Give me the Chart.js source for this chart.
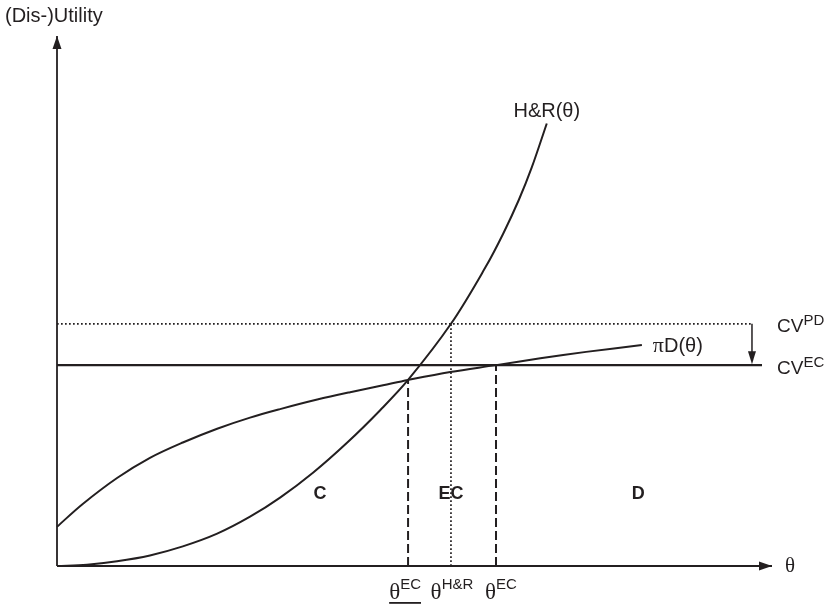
<!DOCTYPE html>
<html>
<head>
<meta charset="utf-8">
<script src="https://cdn.jsdelivr.net/npm/chart.js@4/dist/chart.umd.min.js"></script>
<style>
  html, body { margin: 0; padding: 0; background: #fff; }
  canvas { display: block; }
</style>
</head>
<body>
<canvas id="diagram" width="829" height="605"></canvas>
<script>
// Values (theta and (dis-)utility on a 0..100 scale)
var hrTheta = [0, 4.2, 8.4, 13.0, 17.6, 22.4, 27.0, 31.2, 35.8, 40.6, 45.2, 49.1, 55.1, 59.9, 62.4, 64.6, 66.4, 68.5];
var hrValue = [0, 0.25, 0.9, 2.0, 3.7, 6.1, 9.3, 12.9, 17.6, 23.3, 29.4, 35.1, 45.7, 56.3, 62.7, 69.1, 75.2, 83.5];

var pdTheta = [0, 3.6, 8.4, 13.0, 17.6, 22.4, 27.0, 31.2, 36.4, 41.0, 45.6, 49.1, 55.0, 61.4, 67.6, 74.0, 81.8];
var pdValue = [7.4, 11.7, 16.6, 20.4, 23.3, 25.9, 28.0, 29.6, 31.4, 32.8, 34.1, 35.1, 36.6, 37.9, 39.2, 40.4, 41.7];

// horizontal levels
var cvPD = 45.7;
var cvEC = 37.9;
var cvPDEnd = 97.2;
var cvECEnd = 98.6;

// thresholds on the theta axis
var thetaLow = 49.1;     // underlined theta EC
var thetaHR = 55.1;      // theta H&R
var thetaHigh = 61.4;    // theta EC
var meetValue = 35.1;    // where H&R meets piD

// regions
var regionNames = ['C', 'EC', 'D'];
var regionTheta = [36.8, 55.1, 81.3];
var regionValue = 14;

function pts(xs, ys) {
  return xs.map(function (x, i) { return { x: x, y: ys[i] }; });
}

function lineSet(data, width, dash, extra) {
  var ds = {
    data: data,
    showLine: true,
    borderColor: '#231f20',
    borderWidth: width,
    borderDash: dash || [],
    pointRadius: 0,
    fill: false,
    clip: false
  };
  for (var k in extra) ds[k] = extra[k];
  return ds;
}

var SANS = '"Liberation Sans", Arial, sans-serif';
var SERIF = '"Liberation Serif", "Times New Roman", serif';

// draws a row of text pieces [text, font, rise]
function drawRich(ctx, parts, x, y, align) {
  var w = 0;
  parts.forEach(function (p) { ctx.font = p[1]; w += ctx.measureText(p[0]).width; });
  var cx = align === 'center' ? x - w / 2 : x;
  ctx.textAlign = 'left';
  ctx.textBaseline = 'alphabetic';
  var start = cx;
  parts.forEach(function (p) {
    ctx.font = p[1];
    ctx.fillText(p[0], cx, y - (p[2] || 0));
    cx += ctx.measureText(p[0]).width;
  });
  return { left: start, right: cx };
}

function arrowHead(ctx, tx, ty, dir, len, half) {
  ctx.beginPath();
  if (dir === 'up') {
    ctx.moveTo(tx, ty); ctx.lineTo(tx - half, ty + len); ctx.lineTo(tx + half, ty + len);
  } else if (dir === 'down') {
    ctx.moveTo(tx, ty); ctx.lineTo(tx - half, ty - len); ctx.lineTo(tx + half, ty - len);
  } else {
    ctx.moveTo(tx, ty); ctx.lineTo(tx - len, ty - half); ctx.lineTo(tx - len, ty + half);
  }
  ctx.closePath();
  ctx.fill();
}

var annotations = {
  id: 'annotations',
  afterDatasetsDraw: function (chart) {
    var ctx = chart.ctx;
    var xs = chart.scales.x, ys = chart.scales.y;
    var px = function (v) { return xs.getPixelForValue(v); };
    var py = function (v) { return ys.getPixelForValue(v); };
    ctx.save();
    ctx.fillStyle = '#231f20';
    ctx.strokeStyle = '#231f20';

    // axis arrows
    arrowHead(ctx, px(0), py(100), 'up', 13, 4.5);
    arrowHead(ctx, px(100), py(0), 'right', 13, 4.5);

    // arrow from CV PD down to CV EC
    ctx.lineWidth = 1.5;
    ctx.beginPath();
    ctx.moveTo(px(cvPDEnd), py(cvPD));
    ctx.lineTo(px(cvPDEnd), py(cvEC) - 10);
    ctx.stroke();
    arrowHead(ctx, px(cvPDEnd), py(cvEC) - 1, 'down', 13, 4);

    // axis titles
    drawRich(ctx, [['(Dis-)Utility', '20px ' + SANS]], 5, 22, 'left');
    drawRich(ctx, [['\u03b8', '21px ' + SERIF]], px(100) + 13, py(0) + 6, 'left');

    // curve labels
    var lastHR = hrTheta.length - 1;
    drawRich(ctx, [['H&R(\u03b8)', '20px ' + SANS]], px(hrTheta[lastHR]), py(hrValue[lastHR]) - 6, 'center');
    var lastPD = pdTheta.length - 1;
    drawRich(ctx, [['\u03c0', '22px ' + SERIF], ['D(\u03b8)', '20px ' + SANS]], px(pdTheta[lastPD]) + 11, py(pdValue[lastPD]) + 7, 'left');
    drawRich(ctx, [['CV', '19px ' + SANS], ['PD', '15px ' + SANS, 7]], px(100) + 5, py(cvPD) + 8, 'left');
    drawRich(ctx, [['CV', '19px ' + SANS], ['EC', '15px ' + SANS, 7]], px(100) + 5, py(cvEC) + 9, 'left');

    // threshold labels
    var base = py(0) + 33;
    var lo = drawRich(ctx, [['\u03b8', '23px ' + SERIF], ['EC', '15px ' + SANS, 10]], px(thetaLow) - 3, base, 'center');
    ctx.fillRect(lo.left, base + 3, lo.right - lo.left, 1.8);
    drawRich(ctx, [['\u03b8', '23px ' + SERIF], ['H&R', '15px ' + SANS, 10]], px(thetaHR) + 1, base, 'center');
    drawRich(ctx, [['\u03b8', '23px ' + SERIF], ['EC', '15px ' + SANS, 10]], px(thetaHigh) + 5, base, 'center');

    // region labels
    regionNames.forEach(function (name, i) {
      drawRich(ctx, [[name, 'bold 18px ' + SANS]], px(regionTheta[i]), py(regionValue) + 7, 'center');
    });
    ctx.restore();
  }
};

new Chart(document.getElementById('diagram'), {
  type: 'scatter',
  data: {
    datasets: [
      lineSet([{ x: 0, y: 0 }, { x: 100, y: 0 }], 1.8),
      lineSet([{ x: 0, y: 0 }, { x: 0, y: 100 }], 1.8),
      lineSet(pts(hrTheta, hrValue), 2, [], { tension: 0.35 }),
      lineSet(pts(pdTheta, pdValue), 2, [], { tension: 0.35 }),
      lineSet([{ x: 0, y: cvPD }, { x: cvPDEnd, y: cvPD }], 1.7, [1.7, 2.3]),
      lineSet([{ x: 0, y: cvEC }, { x: cvECEnd, y: cvEC }], 2.2),
      lineSet([{ x: thetaLow, y: 0 }, { x: thetaLow, y: meetValue }], 2, [9, 4]),
      lineSet([{ x: thetaHR, y: 0 }, { x: thetaHR, y: cvPD }], 1.7, [1.7, 2.3]),
      lineSet([{ x: thetaHigh, y: 0 }, { x: thetaHigh, y: cvEC }], 2, [9, 4])
    ]
  },
  options: {
    responsive: false,
    animation: false,
    devicePixelRatio: 1,
    layout: { padding: { left: 57, right: 57, top: 36, bottom: 39 } },
    plugins: { legend: { display: false }, tooltip: { enabled: false } },
    scales: {
      x: { type: 'linear', min: 0, max: 100, display: false },
      y: { type: 'linear', min: 0, max: 100, display: false }
    }
  },
  plugins: [annotations]
});
</script>
</body>
</html>
